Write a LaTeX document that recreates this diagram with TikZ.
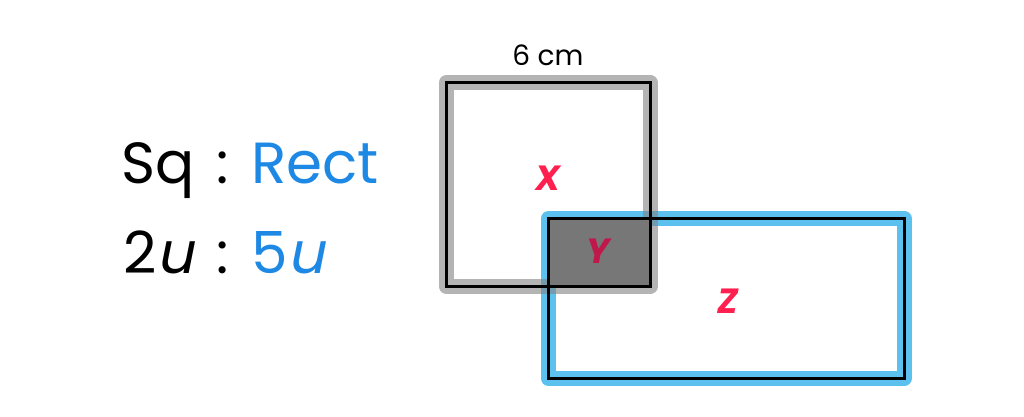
\documentclass[tikz,border=0pt]{standalone}
\usepackage{fontspec}
\setmainfont{Poppins}
\newfontfamily\slantfont[FakeSlant=0.2]{Poppins}
\definecolor{bandgray}{RGB}{130,130,130}
\definecolor{bandblue}{RGB}{93,193,240}
\definecolor{txtblue}{RGB}{30,136,229}
\definecolor{labred}{RGB}{255,32,80}
\definecolor{labdark}{RGB}{192,24,74}
\definecolor{overlapfill}{RGB}{119,119,119}
\tikzset{
  band/.style={line width=15pt, line join=round},
  edge/.style={line width=3pt, draw=black},
  ratio/.style={anchor=base west, inner sep=0pt, font=\fontsize{58}{60}\selectfont},
  colon/.style={anchor=base, inner sep=0pt, font=\fontsize{58}{60}\selectfont},
  lab/.style={inner sep=0pt, font=\bfseries\itshape\fontsize{35}{37}\selectfont}
}
\begin{document}
\begin{tikzpicture}[x=1pt,y=-1pt]
\useasboundingbox (0,0) rectangle (1024,416);
\fill[white] (0,0) rectangle (1024,416);
\coordinate (sqA) at (446.5,82.5);
\coordinate (sqB) at (650,286.5);
\coordinate (reA) at (548.5,218.5);
\coordinate (reB) at (904,378.5);
% bands
\draw[band, draw=bandblue] (reA) rectangle (reB);
\draw[band, draw=bandgray, draw opacity=0.6] (sqA) rectangle (sqB);
% overlap
\fill[overlapfill] (reA) rectangle (sqB);
% outlines
\draw[edge] (sqA) rectangle (sqB);
\draw[edge] (reA) rectangle (reB);
% labels
\node[inner sep=0pt, font=\fontsize{28}{30}\selectfont] (cm) at (548,55) {6 cm};
\node[lab, text=labred] (X) at (548,178) {X};
\node[lab, text=labdark] (Y) at (598,251) {Y};
\node[lab, text=labred] (Z) at (728,301) {Z};
\node[ratio] (sq) at (121,183) {Sq};
\node[colon] (c1) at (223,183) {:};
\node[ratio, text=txtblue] (rect) at (251,183) {Rect};
\node[ratio] (two) at (123,273) {2{\slantfont u}};
\node[colon] (c2) at (223,273) {:};
\node[ratio, text=txtblue] (five) at (251,273) {5{\slantfont u}};
\end{tikzpicture}
\end{document}
